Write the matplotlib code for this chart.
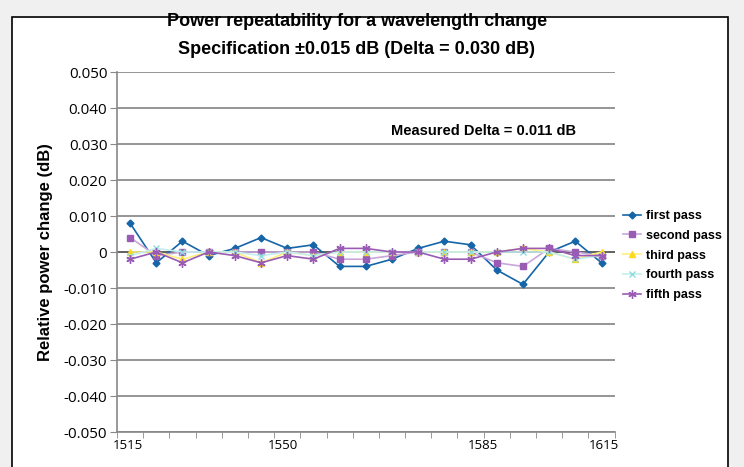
import numpy as np
import matplotlib
matplotlib.use('Agg')
import matplotlib.pyplot as plt
from matplotlib.patches import Rectangle

# values (19 wavelength steps)
first_pass = [0.008, -0.003, 0.003, -0.001, 0.001, 0.004, 0.001, 0.002, -0.004, -0.004,
              -0.002, 0.001, 0.003, 0.002, -0.005, -0.009, 0.000, 0.003, -0.003]
second_pass = [0.004, -0.001, 0.000, 0.000, 0.000, 0.000, 0.000, 0.000, -0.002, -0.002,
               -0.001, 0.000, 0.000, 0.000, -0.003, -0.004, 0.001, 0.000, -0.001]
third_pass = [0.000, 0.000, -0.002, 0.000, 0.000, -0.003, 0.000, -0.001, 0.000, 0.000,
              0.000, 0.000, 0.000, 0.000, 0.000, 0.001, 0.000, -0.002, 0.000]
fourth_pass = [-0.001, 0.001, 0.000, 0.000, 0.000, -0.001, 0.000, -0.001, 0.000, 0.000,
               0.000, 0.000, 0.000, 0.000, 0.000, 0.000, 0.000, -0.002, -0.001]
fifth_pass = [-0.002, 0.000, -0.003, 0.000, -0.001, -0.003, -0.001, -0.002, 0.001, 0.001,
              0.000, 0.000, -0.002, -0.002, 0.000, 0.001, 0.001, -0.001, -0.001]

wl_labels = ['1515', '1550', '1585', '1615']
wl_label_pos = [0.4, 6.35, 13.98, 18.6]
y_ticks = [0.05, 0.04, 0.03, 0.02, 0.01, 0, -0.01, -0.02, -0.03, -0.04, -0.05]
y_labels = ['0.050', '0.040', '0.030', '0.020', '0.010', '0',
            '-0.010', '-0.020', '-0.030', '-0.040', '-0.050']

series = [
    ('first pass', first_pass, '#1565a8', '#1565a8', 'D', 3.5),
    ('second pass', second_pass, '#c9a6dc', '#9a5bb5', 's', 4),
    ('third pass', third_pass, '#fff07a', '#ffd820', '^', 4.5),
    ('fourth pass', fourth_pass, '#c4eeee', '#8fdcdc', 'x', 5),
    ('fifth pass', fifth_pass, '#9a5bb5', '#9a5bb5', (6, 2, 0), 6),
]

narrow = ['Liberation Sans Narrow', 'Liberation Sans', 'DejaVu Sans']

fig = plt.figure(figsize=(7.44, 4.67), dpi=100)
fig.patch.set_facecolor('#f0f0f0')
fig.patches.append(Rectangle((12 / 744, -0.02), 716 / 744, 1 - 17 / 467 + 0.02,
                             transform=fig.transFigure, facecolor='white',
                             edgecolor='black', linewidth=1.2, zorder=-5))

ax = fig.add_axes([117 / 744, 1 - 432 / 467, (614.6 - 117) / 744, 360 / 467])
ax.set_zorder(2)
ax.set_facecolor('none')

x = np.arange(len(first_pass)) + 0.5
for name, vals, lc, mc, mk, ms in series:
    ax.plot(x, vals, color=lc, linewidth=1.2, marker=mk, markersize=ms,
            markerfacecolor=mc, markeredgecolor=mc, markeredgewidth=1.0,
            label=name, zorder=3)

ax.set_xlim(0, len(first_pass))
ax.set_ylim(-0.05, 0.05)
ax.set_yticks(y_ticks)
ax.set_yticklabels(y_labels, fontsize=11, family=['Open Sans', 'DejaVu Sans'])
ax.tick_params(axis='y', length=5, color='#888888', pad=2)
for yv in y_ticks:
    ax.axhline(yv, color='#555555' if yv == 0 else '#8c8c8c', linewidth=1.3, zorder=1)

ax.set_xticks(np.arange(len(first_pass) + 1), minor=True)
ax.set_xticks(wl_label_pos)
ax.set_xticklabels(wl_labels, fontsize=9.5, family=['Open Sans', 'DejaVu Sans'])
ax.tick_params(axis='x', which='major', length=0, pad=5)
ax.tick_params(axis='x', which='minor', length=4, color='#888888')

for s in ['top', 'right']:
    ax.spines[s].set_visible(False)
for s in ['left', 'bottom']:
    ax.spines[s].set_color('#888888')
    ax.spines[s].set_linewidth(1.2)

ax.set_ylabel('Relative power change (dB)', fontsize=12, fontweight='bold',
              family=narrow, labelpad=8)

fig.text(357 / 744, 1 - 22 / 467, 'Power repeatability for a wavelength change',
         ha='center', va='center', fontsize=13, fontweight='bold', family=narrow)
fig.text(357 / 744, 1 - 50 / 467, 'Specification \u00b10.015 dB (Delta = 0.030 dB)',
         ha='center', va='center', fontsize=13, fontweight='bold', family=narrow)

ax.text(10.47, 0.0336, 'Measured Delta = 0.011 dB', fontsize=10.5, fontweight='bold',
        family=narrow, va='center', ha='left')

ax.legend(loc='center left', bbox_to_anchor=(1.005, 0.49), frameon=False,
          prop={'family': narrow, 'weight': 'bold', 'size': 9},
          handlelength=1.4, handletextpad=0.45, labelspacing=0.62, borderpad=0)

fig.savefig('out.png', dpi=100)
